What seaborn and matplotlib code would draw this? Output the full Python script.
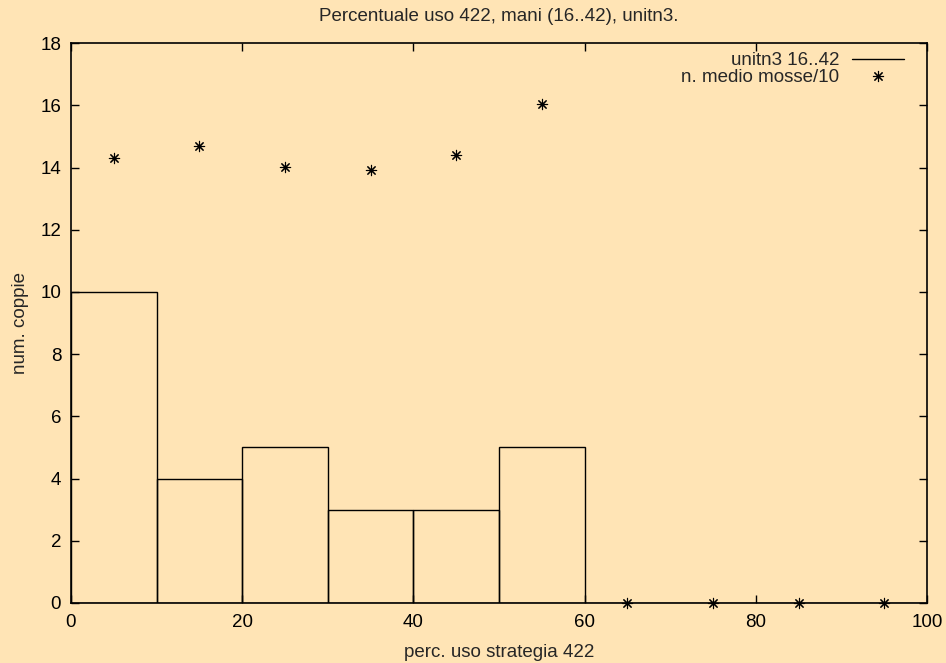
import numpy as np
import matplotlib
matplotlib.use("Agg")
import matplotlib.pyplot as plt
import seaborn as sns
from matplotlib.lines import Line2D

# histogram: bin centres and number of pairs
bin_centers = [5, 15, 25, 35, 45, 55, 65, 75, 85, 95]
pair_counts = [10, 4, 5, 3, 3, 5, 0, 0, 0, 0]
# average moves / 10 for each bin
avg_moves = [14.3, 14.7, 14.02, 13.92, 14.4, 16.05, 0, 0, 0, 0]
bin_edges = list(range(0, 110, 10))

sns.set_theme(style="ticks")
plt.rcParams['font.family'] = ['Liberation Sans', 'DejaVu Sans']
bg = '#FFE4B5'
fs = 13.5

fig = plt.figure(figsize=(9.46, 6.63), dpi=100, facecolor=bg)
ax = fig.add_axes([0.075, 0.0905, 0.905, 0.8445])
ax.set_facecolor(bg)

sns.histplot(x=bin_centers, weights=pair_counts, bins=bin_edges, fill=False,
             color='black', linewidth=1.0, ax=ax)
ax.scatter(bin_centers, avg_moves, marker=(8, 2, 0), s=55, color='black',
           linewidths=0.8, clip_on=False, zorder=3)

ax.set_xlim(0, 100)
ax.set_ylim(0, 18)
ax.set_xticks(range(0, 101, 20))
ax.set_yticks(range(0, 19, 2))
ax.tick_params(direction='in', top=True, right=True, length=6, width=1,
               labelsize=fs, colors='black', pad=7)
ax.tick_params(axis='x', pad=8)
for s in ax.spines.values():
    s.set_visible(True)
    s.set_color('black')
    s.set_linewidth(1.2)

ax.set_xlabel('perc. uso strategia 422', fontsize=fs, labelpad=9)
ax.set_ylabel('num. coppie', fontsize=fs, labelpad=8)
ax.set_title('Percentuale uso 422, mani (16..42), unitn3.', fontsize=fs, pad=16)

handles = [Line2D([], [], color='black', linewidth=1.0),
           Line2D([], [], color='black', marker=(8, 2, 0), markersize=8,
                  markeredgewidth=0.8, linestyle='none')]
ax.legend(handles, ['unitn3 16..42', 'n. medio mosse/10'], loc='upper right',
          bbox_to_anchor=(904 / 946, 1 - 52 / 663), bbox_transform=fig.transFigure,
          frameon=False, markerfirst=False, fontsize=fs, handlelength=2.8,
          handletextpad=0.65, borderaxespad=0, borderpad=0, labelspacing=0.0)

plt.savefig('out.png', dpi=100, facecolor=bg)
plt.close()
